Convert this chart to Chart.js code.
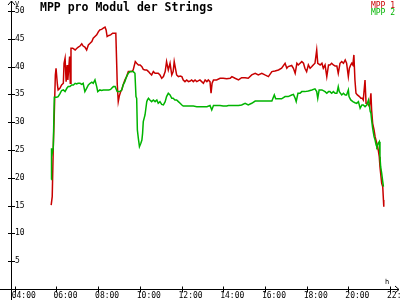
<!DOCTYPE html>
<html>
<head>
<meta charset="utf-8">
<script src="https://cdn.jsdelivr.net/npm/chart.js@4.4.0/dist/chart.umd.min.js"></script>
<style>
  html, body { margin: 0; padding: 0; background: #fff; }
</style>
</head>
<body>
<canvas id="mppChart" width="400" height="300"></canvas>

<script>
var chartTitle = "MPP pro Modul der Strings";
var seriesNames = ["MPP 1", "MPP 2"];
var seriesColors = ["#c80000", "#00b400"];
var hourTicks = ["04:00", "06:00", "08:00", "10:00", "12:00", "14:00", "16:00", "18:00", "20:00", "22:00"];
var voltTicks = [5, 10, 15, 20, 25, 30, 35, 40, 45, 50];

// MPP 1 (red)
var t1 = [
  "05:45","05:48","05:51","05:54","05:57","05:59","06:03","06:05","06:10","06:15",
  "06:20","06:22","06:25","06:28","06:31","06:33","06:38","06:40","06:42","06:47",
  "06:54","06:59","07:03","07:08","07:13","07:17","07:22","07:27","07:32","07:37",
  "07:42","07:46","07:51","07:56","08:01","08:05","08:10","08:15","08:20","08:23",
  "08:26","08:31","08:36","08:42","08:47","08:51","08:54","08:55","08:58","09:01",
  "09:05","09:08","09:12","09:17","09:22","09:27","09:32","09:37","09:41","09:47",
  "09:51","09:56","10:01","10:06","10:10","10:15","10:20","10:25","10:29","10:34",
  "10:39","10:44","10:49","10:53","10:58","11:03","11:08","11:13","11:17","11:22",
  "11:27","11:32","11:36","11:39","11:46","11:51","11:56","12:01","12:05","12:10",
  "12:15","12:20","12:25","12:29","12:34","12:39","12:44","12:53","12:58","13:03",
  "13:08","13:13","13:17","13:22","13:25","13:28","13:32","13:41","13:51","14:00",
  "14:10","14:20","14:25","14:34","14:44","14:53","15:03","15:12","15:22","15:32",
  "15:41","15:51","16:00","16:10","16:20","16:29","16:39","16:48","16:58","17:03",
  "17:07","17:17","17:22","17:27","17:32","17:36","17:46","17:51","17:55","18:00",
  "18:05","18:10","18:15","18:19","18:24","18:29","18:32","18:39","18:44","18:48",
  "18:53","18:58","19:03","19:07","19:12","19:17","19:22","19:27","19:31","19:36",
  "19:41","19:46","19:51","19:55","20:00","20:03","20:07","20:10","20:13","20:16",
  "20:19","20:22","20:26","20:32","20:36","20:40","20:43","20:48","20:51","20:55",
  "20:58","21:01","21:05","21:07","21:10","21:14","21:17","21:22","21:26","21:29",
  "21:31","21:33","21:36","21:39","21:41","21:42"
];
var mpp1 = [
  15.1,16.6,25.4,31.6,38.5,39.7,36.7,35.8,36.1,36.7,
  37.0,40.6,41.5,37.3,40.3,37.6,41.8,37.0,43.3,43.3,
  43.0,43.3,43.5,43.7,44.1,43.7,43.5,43.0,43.9,44.2,
  44.5,45.1,45.4,45.7,46.3,46.6,46.7,46.9,47.1,46.6,
  45.4,45.6,45.7,46.0,46.0,46.0,39.4,37.0,33.7,34.7,
  35.5,35.8,36.7,37.6,38.2,39.1,39.1,39.1,39.4,40.9,
  40.6,40.3,40.3,40.0,39.5,39.4,39.4,39.1,38.8,38.5,
  39.1,38.8,38.8,38.8,38.5,37.9,38.2,39.1,40.9,39.4,
  40.6,38.5,39.1,40.9,38.5,38.2,38.3,38.2,37.6,37.3,
  37.6,37.3,37.4,37.6,37.3,37.6,37.3,37.6,37.3,37.0,
  37.6,37.3,37.6,37.3,35.2,37.0,37.6,37.6,37.9,37.9,
  37.8,37.9,38.2,37.9,37.6,38.0,38.0,37.9,38.5,38.8,
  38.5,38.8,38.5,38.2,39.1,39.2,39.4,39.7,40.6,39.7,
  40.0,40.2,39.7,38.8,40.6,40.3,40.9,40.6,39.7,39.1,
  40.3,39.7,40.0,40.3,40.6,43.0,40.6,40.3,40.6,39.7,
  40.3,38.2,40.3,40.3,40.6,40.3,40.1,40.1,38.8,40.6,
  40.9,40.6,41.2,40.6,38.2,39.7,40.3,40.6,40.3,42.1,
  37.6,35.2,34.9,34.6,34.3,34.3,34.0,37.6,33.4,33.4,
  33.1,32.8,35.2,32.2,29.8,28.6,27.4,26.2,25.0,23.8,
  22.0,20.8,19.0,18.4,16.0,14.8
];

// MPP 2 (green)
var t2 = [
  "05:45","05:46","05:48","05:51","05:54","05:57","06:01","06:05","06:10","06:15",
  "06:20","06:25","06:30","06:34","06:39","06:44","06:49","06:54","06:58","07:03",
  "07:08","07:13","07:17","07:22","07:27","07:32","07:37","07:42","07:46","07:51",
  "07:56","07:59","08:05","08:10","08:15","08:20","08:25","08:31","08:36","08:39",
  "08:44","08:49","08:55","09:03","09:08","09:12","09:17","09:22","09:27","09:32",
  "09:41","09:46","09:49","09:51","09:53","09:56","09:59","10:03","10:06","10:08",
  "10:10","10:15","10:20","10:22","10:25","10:29","10:34","10:39","10:44","10:49",
  "10:53","10:58","11:03","11:08","11:13","11:17","11:22","11:27","11:32","11:36",
  "11:41","11:46","11:51","11:56","12:01","12:05","12:15","12:25","12:34","12:44",
  "12:53","13:03","13:13","13:22","13:27","13:32","13:41","13:51","14:00","14:10",
  "14:15","14:25","14:34","14:44","14:53","15:03","15:12","15:22","15:32","15:41",
  "15:51","16:00","16:10","16:20","16:27","16:31","16:39","16:48","16:58","17:07",
  "17:17","17:22","17:27","17:30","17:35","17:41","17:46","17:55","18:05","18:15",
  "18:24","18:29","18:32","18:36","18:44","18:53","18:58","19:03","19:07","19:12",
  "19:17","19:22","19:27","19:31","19:34","19:41","19:46","19:51","19:55","20:00",
  "20:02","20:07","20:13","20:19","20:24","20:29","20:34","20:39","20:43","20:48",
  "20:53","20:58","21:01","21:03","21:05","21:07","21:10","21:14","21:17","21:20",
  "21:22","21:26","21:29","21:31","21:33","21:36","21:39","21:41"
];
var mpp2 = [
  19.7,25.3,24.4,25.4,34.5,34.5,34.5,34.6,35.1,35.7,
  35.8,35.5,36.1,36.4,36.4,36.7,36.7,37.0,36.9,37.0,
  37.0,36.8,37.0,35.5,36.1,36.7,37.0,37.2,37.0,37.6,
  36.4,35.5,35.8,35.7,35.8,35.8,35.8,35.8,35.9,36.1,
  36.4,36.4,35.5,35.5,35.8,36.7,37.3,38.2,38.8,39.1,
  39.1,38.8,34.6,34.3,28.6,27.0,25.6,26.2,26.8,28.0,
  30.1,31.3,33.7,34.0,34.3,34.0,33.7,34.0,33.7,34.0,
  33.4,33.7,33.2,33.1,33.7,34.6,35.2,34.9,34.3,34.3,
  34.0,34.0,33.7,33.4,33.1,32.9,32.9,32.9,32.9,32.8,
  32.8,32.8,32.8,33.0,32.2,33.0,33.0,33.0,32.9,32.9,
  33.0,33.0,33.0,33.0,33.1,33.4,33.1,33.4,33.8,33.8,
  33.8,33.8,33.8,33.8,34.9,34.2,34.2,34.2,34.6,34.6,
  34.9,35.0,34.3,33.7,35.2,35.2,35.5,35.5,35.6,35.8,
  36.0,35.5,34.3,35.8,35.8,35.5,35.2,35.5,35.5,35.2,
  35.5,35.2,35.2,36.4,35.5,34.9,35.2,34.9,34.9,35.8,
  34.6,34.0,33.7,33.5,33.4,33.7,32.5,33.1,33.1,32.8,
  33.1,34.0,32.8,31.9,31.6,30.4,28.9,27.4,26.8,25.9,
  25.6,26.2,26.5,23.8,22.0,20.8,19.3,18.4
];

function toMin(s) {
  var p = s.split(':');
  return Number(p[0]) * 60 + Number(p[1]);
}
function points(times, vals) {
  return times.map(function (t, i) { return { x: toMin(t), y: vals[i] }; });
}

var mono = "'DejaVu Sans Mono', 'Liberation Mono', monospace";

// axis lines with arrows, tick marks crossing the axes, title, legend, units
var decoPlugin = {
  id: 'deco',
  afterDraw: function (chart) {
    var ctx = chart.ctx, a = chart.chartArea;
    var xs = chart.scales.x, ys = chart.scales.y;
    var ax = Math.round(a.left) + 0.5, ay = Math.round(a.bottom) + 0.5;
    var W = chart.width, H = chart.height;
    ctx.save();
    ctx.strokeStyle = '#000';
    ctx.lineWidth = 1;
    ctx.beginPath();
    ctx.moveTo(ax, H); ctx.lineTo(ax, 1);
    ctx.moveTo(ax - 3.5, 5); ctx.lineTo(ax, 1); ctx.lineTo(ax + 3.5, 5);
    ctx.moveTo(0, ay); ctx.lineTo(W - 1, ay);
    ctx.moveTo(W - 5, ay - 3.5); ctx.lineTo(W - 1, ay); ctx.lineTo(W - 5, ay + 3.5);
    ys.ticks.forEach(function (t) {
      var py = Math.round(ys.getPixelForValue(t.value)) + 0.5;
      ctx.moveTo(ax - 3.5, py); ctx.lineTo(ax + 3.5, py);
    });
    xs.ticks.forEach(function (t) {
      var px = Math.round(xs.getPixelForValue(t.value)) + 0.5;
      ctx.moveTo(px, ay - 3); ctx.lineTo(px, ay + 3);
    });
    ctx.stroke();

    ctx.fillStyle = '#000';
    ctx.textBaseline = 'alphabetic';
    ctx.textAlign = 'left';
    ctx.font = "bold 11.5px " + mono;
    ctx.fillText(chartTitle, 40, 11);

    ctx.font = "7px " + mono;
    ctx.fillText("V", 15, 6);
    ctx.fillText("h", 385, 284);

    ctx.font = "8px " + mono;
    ctx.textAlign = 'right';
    chart.data.datasets.forEach(function (ds, i) {
      ctx.fillStyle = ds.borderColor;
      ctx.fillText(ds.label, 395, 7.5 + i * 7.5);
    });
    ctx.restore();
  }
};

var lineConfig = {
  type: 'line',
  data: {
    datasets: [{
      label: seriesNames[0],
      data: points(t1, mpp1),
      borderColor: seriesColors[0],
      borderWidth: 1.5,
      pointRadius: 0,
      tension: 0,
      order: 1
    }, {
      label: seriesNames[1],
      data: points(t2, mpp2),
      borderColor: seriesColors[1],
      borderWidth: 1.5,
      pointRadius: 0,
      tension: 0,
      order: 0
    }]
  },
  options: {
    responsive: false,
    animation: false,
    devicePixelRatio: 1,
    layout: { padding: { top: 11, left: 11, right: 2, bottom: 0 } },
    plugins: { legend: { display: false }, tooltip: { enabled: false }, title: { display: false } },
    scales: {
      x: {
        type: 'linear',
        min: 229.4,
        max: 1342.9,
        grid: { display: false, drawTicks: false },
        border: { display: false },
        afterBuildTicks: function (scale) {
          scale.ticks = hourTicks.map(function (s) { return { value: toMin(s) }; });
        },
        afterFit: function (scale) {
          scale.height = 11;
          scale.paddingLeft = 0; scale.paddingRight = 0;
        },
        ticks: {
          autoSkip: false,
          maxRotation: 0,
          align: 'start',
          labelOffset: -3,
          padding: 2,
          color: '#000',
          font: { family: mono, size: 8 },
          callback: function (v, i) { return hourTicks[i]; }
        }
      },
      y: {
        min: 0,
        max: 50,
        grid: { display: false, drawTicks: false },
        border: { display: false },
        afterBuildTicks: function (scale) {
          scale.ticks = voltTicks.map(function (v) { return { value: v }; });
        },
        afterFit: function (scale) {
          scale.width = 0;
          scale.paddingTop = 0; scale.paddingBottom = 0;
        },
        ticks: {
          mirror: true,
          padding: 4,
          color: '#000',
          font: { family: mono, size: 8 },
          callback: function (v) { return String(v); }
        }
      }
    }
  },
  plugins: [decoPlugin]
};

var mppChart = new Chart(document.getElementById('mppChart').getContext('2d'), lineConfig);
</script>
</body>
</html>
